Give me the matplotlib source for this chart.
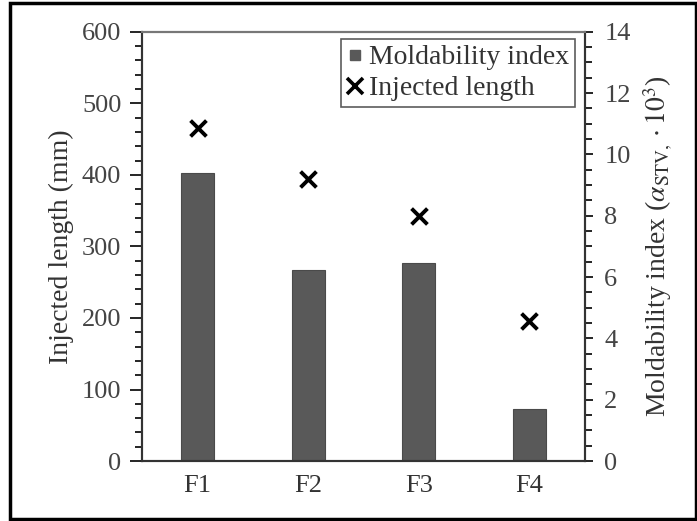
import matplotlib
matplotlib.use('Agg')
import matplotlib.pyplot as plt
from matplotlib.patches import Rectangle
from matplotlib.ticker import MultipleLocator
from matplotlib.lines import Line2D

plt.rcParams['font.family'] = 'Liberation Serif'
plt.rcParams['mathtext.fontset'] = 'stix'

# data
formulations = ['F1', 'F2', 'F3', 'F4']
injected_length = [465, 394, 342, 196]      # mm, left axis (x markers)
moldability = [9.40, 6.23, 6.45, 1.69]      # alpha_STV * 10^3, right axis (bars)

fig = plt.figure(figsize=(6.97, 5.21), dpi=100)
ax = fig.add_axes([0.204, 0.115, 0.635, 0.824])
ax2 = ax.twinx()

x = range(len(formulations))
ax2.bar(x, moldability, width=0.3, color='#595959', edgecolor='#4a4a4a', linewidth=0.8, zorder=1)
ax.scatter(x, injected_length, marker='x', s=130, color='black', linewidths=2.8, zorder=5)
ax.set_zorder(ax2.get_zorder() + 1)
ax.patch.set_visible(False)

ax.set_xlim(-0.5, 3.5)
ax.set_ylim(0, 600)
ax2.set_ylim(0, 14)
ax.set_xticks(list(x))
ax.set_xticklabels(formulations)
ax.tick_params(axis='x', length=0, pad=10, labelsize=19, colors='#333333')

ax.yaxis.set_major_locator(MultipleLocator(100))
ax.yaxis.set_minor_locator(MultipleLocator(20))
ax2.yaxis.set_major_locator(MultipleLocator(2))
ax2.yaxis.set_minor_locator(MultipleLocator(0.5))
ax.tick_params(axis='y', which='major', direction='out', length=9, width=1.2, labelsize=19, pad=6)
ax.tick_params(axis='y', which='minor', direction='out', length=5, width=1.2)
ax2.tick_params(axis='y', which='major', direction='out', length=6, width=1.2, labelsize=19, pad=8)
ax2.tick_params(axis='y', which='minor', direction='out', length=5, width=1.2)
ax.tick_params(axis='y', labelcolor='#444444')
ax2.tick_params(axis='y', labelcolor='#444444')

for a in (ax, ax2):
    for side in a.spines.values():
        side.set_linewidth(1.5)
        side.set_color('#333333')
ax.spines['top'].set_color('#777777')

ax.set_ylabel('Injected length (mm)', fontsize=20, labelpad=6, color='#333333')
ax2.set_ylabel(r'Moldability index ($\alpha_{\mathrm{STV},}\cdot 10^{3}$)', fontsize=20,
               labelpad=8, color='#333333')

handles = [
    Line2D([], [], marker='s', linestyle='none', markersize=7, color='#595959'),
    Line2D([], [], marker='x', linestyle='none', markersize=12, color='black', markeredgewidth=2.6),
]
leg = ax.legend(handles, ['Moldability index', 'Injected length'], loc='upper right',
                fontsize=20, frameon=True, fancybox=False, handlelength=0.6,
                handletextpad=0.2, borderpad=0.2, labelspacing=0.2, borderaxespad=0.2,
                bbox_to_anchor=(0.99, 0.995))
leg.get_frame().set_edgecolor('#333333')
leg.get_frame().set_linewidth(1.2)
for t in leg.get_texts():
    t.set_color('#333333')

# outer frame around the whole figure
fig.patches.append(Rectangle((10 / 697, 2 / 521), 686 / 697, 516 / 521, transform=fig.transFigure,
                             fill=False, edgecolor='black', linewidth=2.5))

fig.savefig('out.png', dpi=100)
